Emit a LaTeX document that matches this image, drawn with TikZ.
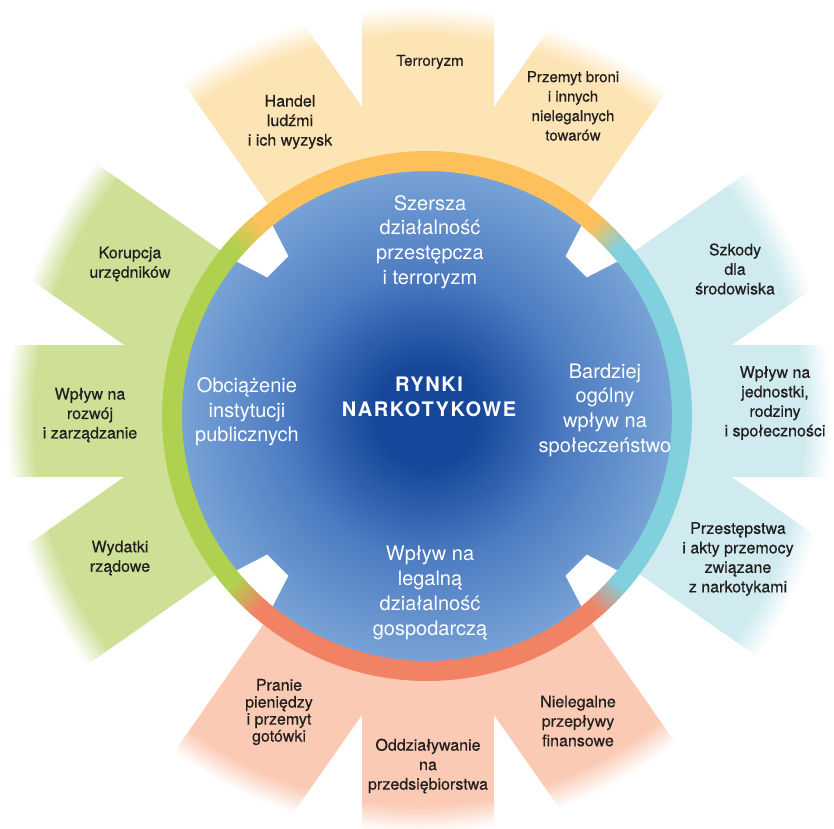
\documentclass[tikz,border=0pt]{standalone}
\usepackage{fontspec}
\setmainfont{TeX Gyre Heros}
\definecolor{ringO}{HTML}{FDC05A}
\definecolor{ringG}{HTML}{B0D150}
\definecolor{ringR}{HTML}{F28264}
\definecolor{ringC}{HTML}{80D0DE}
\definecolor{petO}{HTML}{FDE4B5}
\definecolor{petG}{HTML}{CEE096}
\definecolor{petR}{HTML}{FACAB4}
\definecolor{petC}{HTML}{CFEBF0}
\definecolor{cDark}{HTML}{16479A}
\definecolor{cMid}{HTML}{4D7CC2}
\definecolor{cLight}{HTML}{7BA6D8}
\definecolor{txtDark}{HTML}{231F20}
\pgfdeclareradialshading{bluecirc}{\pgfpointorigin}{color(0bp)=(cDark); color(5bp)=(cDark); color(14bp)=(cMid); color(25bp)=(cLight); color(50bp)=(cLight)}
\newcommand\drawpetals[2]{%
  \begin{scope}[shift={(Pc)}, rotate=#1]
    \fill[#2] (-10,-66) rectangle (460,66);
    \begin{scope}[shift={(94,0)}, rotate=35] \fill[#2] (-60,-66) rectangle (420,66); \end{scope}
    \begin{scope}[shift={(94,0)}, rotate=-35] \fill[#2] (-60,-66) rectangle (420,66); \end{scope}
  \end{scope}}
\begin{document}
\begin{tikzpicture}[x=1pt,y=1pt,
  lbl/.style={text=txtDark, align=center, font=\fontsize{16}{19.5}\selectfont\addfontfeatures{FakeBold=0.5}, inner sep=0pt},
  lblc/.style={lbl, font=\fontsize{15}{19.5}\selectfont\addfontfeatures{FakeBold=0.5}},
  lbltight/.style={lbl, font=\fontsize{16}{17}\selectfont\addfontfeatures{FakeBold=0.5}},
  innerlbl/.style={text=white, align=center, font=\fontsize{20}{24.7}\selectfont, inner sep=0pt},
  centerlbl/.style={text=white, align=center, font=\bfseries\fontsize{20}{25}\selectfont\addfontfeatures{LetterSpace=8}, inner sep=0pt}]
\useasboundingbox (0,0) rectangle (834,828);
\clip (0,0) rectangle (834,828);
\coordinate (Pc) at (428,417);
\coordinate (Fc) at (419,408);
\coordinate (Cc) at (427,412);
% petals (strips), faded to white towards their outer ends
\foreach \k in {0,...,14}{
  \pgfmathsetmacro\rr{414-2*\k}
  \pgfmathtruncatemacro\pp{100*\k/14}
  \begin{scope}
    \clip (Fc) circle[radius=\rr];
    \foreach \ang/\col in {90/petO, 0/petC, 270/petR, 180/petG}{
      \drawpetals{\ang}{\col!\pp!white}
    }
  \end{scope}
}
% central disc
\shade[shading=bluecirc] (Cc) circle[radius=255];
% notches
\foreach \ang in {45,135,225,315}{
  \fill[white, shift={(Cc)}, rotate=\ang] (211,-15) -- (252,-28) -- (252,28) -- (211,15) -- cycle;
}
% ring
\foreach \ang/\col in {90/ringO,180/ringG,270/ringR,0/ringC}{
  \draw[line width=20pt, draw=\col, shift={(Cc)}] (\ang-41:255) arc[start angle=\ang-41, end angle=\ang+41, radius=255];
}
\foreach \m/\ca/\cb in {45/ringC/ringO,135/ringO/ringG,225/ringG/ringR,315/ringR/ringC}{
  \foreach \k in {0,...,15}{
    \pgfmathsetmacro\angA{\m-4+\k*0.5}
    \pgfmathtruncatemacro\pp{round(100*(\k+0.5)/16)}
    \draw[line width=20pt, draw=\cb!\pp!\ca, shift={(Cc)}] (\angA:255) arc[start angle=\angA, delta angle=0.6, radius=255];
  }
}
% labels: top
\node[lbl] (handel) at (290,706) {Handel\\ludźmi\\i ich wyzysk};
\node[lblc] (terror) at (430,766) {Terroryzm};
\node[lblc] (przemyt) at (573,722) {Przemyt broni\\i innych\\nielegalnych\\towarów};
\node[innerlbl] (szersza) at (430,586) {Szersza\\działalność\\przestępcza\\i terroryzm};
% right
\node[lbl] (szkody) at (735,559) {Szkody\\dla\\środowiska};
\node[lbl] (jednostki) at (775,425) {Wpływ na\\jednostki,\\rodziny\\i społeczności};
\node[lbl] (przest) at (738,269) {Przestępstwa\\i akty przemocy\\związane\\z narkotykami};
\node[innerlbl] (bardziej) at (605,418) {Bardziej\\ogólny\\wpływ na\\społeczeństwo};
% left
\node[lbl] (korupcja) at (130,564) {Korupcja\\urzędników};
\node[lbl] (rozwoj) at (90,413) {Wpływ na\\rozwój\\i zarządzanie};
\node[lbl] (wydatki) at (120,270) {Wydatki\\rządowe};
\node[innerlbl] (obciaz) at (247,416) {Obciążenie\\instytucji\\publicznych};
% bottom
\node[lbltight] (pranie) at (279,116) {Pranie\\pieniędzy\\i przemyt\\gotówki};
\node[lbl] (oddz) at (428,62) {Oddziaływanie\\na\\przedsiębiorstwa};
\node[lbl] (nieleg) at (578,107) {Nielegalne\\przepływy\\finansowe};
\node[innerlbl] (legal) at (430,235) {Wpływ na\\legalną\\działalność\\gospodarczą};
% centre
\node[centerlbl] (rynki) at (429,431) {RYNKI\\NARKOTYKOWE};
\end{tikzpicture}
\end{document}
